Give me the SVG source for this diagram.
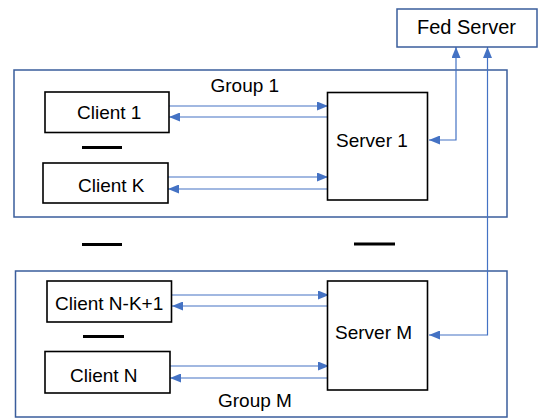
<svg xmlns="http://www.w3.org/2000/svg" width="540" height="418" viewBox="0 0 540 418">
<style>
.grp{fill:none;stroke:#3a5d9c;stroke-width:1.5}
.node{fill:#fff;stroke:#000;stroke-width:1.6}
.fed{fill:#fff;stroke:#3a5d9c;stroke-width:1.5}
.lbl{font-family:"Liberation Sans",Arial,sans-serif;font-size:19px;fill:#000}
.con{fill:none;stroke:#4472c4;stroke-width:1.2}
.dash{stroke:#000;stroke-width:3}
</style>
<defs>
<marker id="ah" markerUnits="userSpaceOnUse" markerWidth="11" markerHeight="9" refX="11" refY="4.5" orient="auto-start-reverse" viewBox="0 0 11 9">
<path d="M0,0 L11,4.5 L0,9 z" fill="#4472c4"/>
</marker>
</defs>
<rect width="540" height="418" fill="#fff"/>
<g id="group1">
<rect class="grp" x="14" y="70" width="493" height="147"/>
<text class="lbl" x="210.5" y="92">Group 1</text>
</g>
<g id="groupM">
<rect class="grp" x="15.5" y="271" width="491.5" height="146"/>
<text class="lbl" x="218" y="407">Group M</text>
</g>
<g id="connectors">
<line class="con" x1="169" y1="106" x2="328" y2="106" marker-end="url(#ah)"/>
<line class="con" x1="328" y1="117" x2="169" y2="117" marker-end="url(#ah)"/>
<line class="con" x1="168" y1="177" x2="328" y2="177" marker-end="url(#ah)"/>
<line class="con" x1="328" y1="189" x2="168" y2="189" marker-end="url(#ah)"/>
<polyline class="con" points="429,140 456,140 456,47" marker-start="url(#ah)" marker-end="url(#ah)"/>
<polyline class="con" points="429,335 487.5,335 487.5,47" marker-start="url(#ah)" marker-end="url(#ah)"/>
<line class="con" x1="172" y1="295" x2="329" y2="295" marker-end="url(#ah)"/>
<line class="con" x1="328" y1="306" x2="172" y2="306" marker-end="url(#ah)"/>
<line class="con" x1="170" y1="366" x2="329" y2="366" marker-end="url(#ah)"/>
<line class="con" x1="328" y1="378" x2="170" y2="378" marker-end="url(#ah)"/>
</g>
<g id="fed-server">
<rect class="fed" x="397" y="9" width="140" height="38"/>
<text class="lbl" x="417" y="34" style="font-size:20px">Fed Server</text>
</g>
<g id="client1">
<rect class="node" x="45" y="92" width="124" height="40.5"/>
<text class="lbl" x="77" y="119">Client 1</text>
</g>
<g id="clientK">
<rect class="node" x="43" y="163" width="125" height="40"/>
<text class="lbl" x="78" y="192">Client K</text>
</g>
<g id="server1">
<rect class="node" x="327.5" y="92.5" width="100" height="107.5"/>
<text class="lbl" x="336" y="147">Server 1</text>
</g>
<g id="clientNK1">
<rect class="node" x="47" y="281" width="124.5" height="41"/>
<text class="lbl" x="55" y="310">Client N-K+1</text>
</g>
<g id="clientN">
<rect class="node" x="45" y="351.5" width="125" height="41.5"/>
<text class="lbl" x="70" y="382">Client N</text>
</g>
<g id="serverM">
<rect class="node" x="327.5" y="281" width="100" height="109"/>
<text class="lbl" x="335" y="339">Server M</text>
</g>
<g id="ellipses">
<line class="dash" x1="82" y1="147.5" x2="122" y2="147.5"/>
<line class="dash" x1="82" y1="244.5" x2="122" y2="244.5"/>
<line class="dash" x1="354" y1="244" x2="395" y2="244"/>
<line class="dash" x1="83" y1="336.5" x2="124" y2="336.5"/>
</g>
</svg>
